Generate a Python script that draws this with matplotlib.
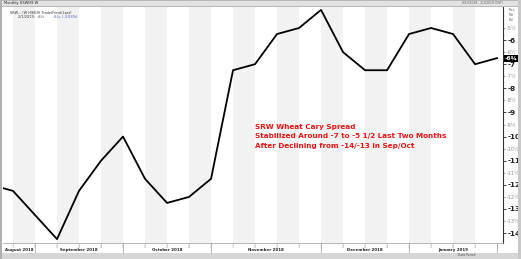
import numpy as np
import pandas as pd
import matplotlib
matplotlib.use('Agg')
import matplotlib.pyplot as plt
from matplotlib.patches import Rectangle
from matplotlib.transforms import blended_transform_factory

# weekly closes (Fridays), SRW wheat carry spread
dates = pd.to_datetime(['2018-08-24', '2018-08-31', '2018-09-07', '2018-09-14', '2018-09-21',
                        '2018-09-28', '2018-10-05', '2018-10-12', '2018-10-19', '2018-10-26',
                        '2018-11-02', '2018-11-09', '2018-11-16', '2018-11-23', '2018-11-30',
                        '2018-12-07', '2018-12-14', '2018-12-21', '2018-12-28', '2019-01-04',
                        '2019-01-11', '2019-01-18', '2019-01-25', '2019-02-01'])
values = [-12, -12.25, -13.25, -14.25, -12.25, -11, -10, -11.75, -12.75, -12.5,
          -11.75, -7.25, -7, -5.75, -5.5, -4.75, -6.5, -7.25, -7.25, -5.75,
          -5.5, -5.75, -7, -6.75]
month_names = ['August 2018', 'September 2018', 'October 2018', 'November 2018',
               'December 2018', 'January 2019']
major_ticks = [-6, -7, -8, -9, -10, -11, -12, -13, -14]
half_ticks = [-5.5, -6.5, -7.5, -8.5, -9.5, -10.5, -11.5, -12.5, -13.5]
note = ['SRW Wheat Cary Spread',
        'Stabilized Around -7 to -5 1/2 Last Two Months',
        'After Declining from -14/-13 in Sep/Oct']

W, H = 521, 259
fig = plt.figure(figsize=(W / 100, H / 100), dpi=100)
fig.patch.set_facecolor('white')

def fx(px):
    return px / W

def fy(py):
    return 1 - py / H

# frame around the chart
fig.patches.append(Rectangle((0, fy(6)), 1, 6 / H, transform=fig.transFigure,
                             facecolor='#e2e2e2', edgecolor='#a0a0a0', lw=0.5))
fig.patches.append(Rectangle((0, 0), 1, 6 / H, transform=fig.transFigure,
                             facecolor='#d6d6d6', edgecolor='none'))
fig.patches.append(Rectangle((0, 0), 2 / W, 1, transform=fig.transFigure,
                             facecolor='#b0b0b0', edgecolor='none'))
fig.patches.append(Rectangle((fx(518), 0), 3 / W, 1, transform=fig.transFigure,
                             facecolor='#c8c8c8', edgecolor='none'))
fig.text(fx(4), fy(3), 'Monthly USWH9 W', fontsize=2.6, va='center', color='#222222')
fig.text(fx(462), fy(3), '8/13/2018 - 2/1/2019 (CST)', fontsize=2.2, va='center', color='#555555')
fig.text(fx(458), fy(255.5), 'Data Period', fontsize=2.2, va='center', color='#444444')

ax = fig.add_axes([fx(3), fy(243), (503 - 3) / W, (243 - 7) / H])
x = np.arange(len(values)) - 1  # first week sits just off the left edge

# alternating weekly bands
for i in range(0, len(values) - 2, 2):
    ax.axvspan(i, i + 1, color='#f2f2f2', lw=0, zorder=0)

ax.plot(x, values, color='black', lw=1.3, zorder=3)

ax.set_xlim(-0.4545, 22.27)
ax.set_ylim(-14.41, -4.63)

for s in ['top', 'left']:
    ax.spines[s].set_visible(False)
ax.spines['right'].set_color('#333333')
ax.spines['right'].set_linewidth(0.8)
ax.spines['bottom'].set_color('#999999')
ax.spines['bottom'].set_linewidth(0.5)

# right axis labels
ax.yaxis.tick_right()
ax.set_yticks(major_ticks)
ax.set_yticklabels([str(v) for v in major_ticks], fontsize=5.2, fontweight='bold')
ax.set_yticks(half_ticks, minor=True)
ax.set_yticklabels([str(int(v + 0.5)) + '\u00bd' for v in half_ticks],
                   minor=True, fontsize=3.5)
ax.tick_params(axis='y', which='major', length=2.5, width=0.6, pad=1, colors='#222222')
ax.tick_params(axis='y', which='minor', length=1.5, width=0.4, pad=1.5,
               colors='#666666', labelcolor='#8a8a8a')
# small stacked legend texts above the top labels
for k, t in enumerate(['Prev', 'Mkt', 'Bid']):
    ax.text(1.012, 0.995 - 0.021 * k, t, transform=ax.transAxes, fontsize=2.1,
            color='#555555', va='top', ha='left')

# last value box
last = values[-1]
ax.text(1.003, last, '-6\u00be', transform=blended_transform_factory(ax.transAxes, ax.transData),
        fontsize=4.2, color='white', fontweight='bold', va='center', ha='left',
        bbox=dict(boxstyle='square,pad=0.15', facecolor='black', edgecolor='none'))

# bottom axis: weekly ticks with day numbers, month separators and names
ax.set_xticks(x[1:])
ax.set_xticklabels([str(d.day) for d in dates[1:]], fontsize=1.9, color='#999999')
ax.tick_params(axis='x', length=1.2, width=0.4, pad=0.3, colors='#aaaaaa')
trans = blended_transform_factory(ax.transData, ax.transAxes)
firsts = [i - 1 for i in range(2, len(dates)) if dates[i].month != dates[i - 1].month]
for i in firsts:
    ax.plot([i, i], [0, -0.042], color='#999999', lw=0.5, transform=trans, clip_on=False)
bounds = [-0.4545] + firsts + [22.27]
for k, name in enumerate(month_names):
    ax.text((bounds[k] + bounds[k + 1]) / 2, -0.03, name, transform=trans,
            fontsize=2.9, fontweight='bold', color='#222222', ha='center', va='center')

# legend text at top left
ax.text(0.015, 0.985, 'SRW... (W H9/K9) Trade/Front(Last)', transform=ax.transAxes,
        fontsize=2.5, color='#333333', va='top')
ax.text(0.03, 0.965, '2/1/2019:  -6\u00be', transform=ax.transAxes,
        fontsize=2.5, color='#333333', va='top')
ax.text(0.1, 0.965, '-6\u00be, (-3.03%)', transform=ax.transAxes,
        fontsize=2.5, color='#3344bb', va='top')

# annotation
for k, line in enumerate(note):
    ax.text(11.0, -9.6 - 0.39 * k, line, fontsize=5.2, fontweight='bold',
            color='#ee1111', va='center', ha='left')

fig.savefig('out.png', dpi=100)
